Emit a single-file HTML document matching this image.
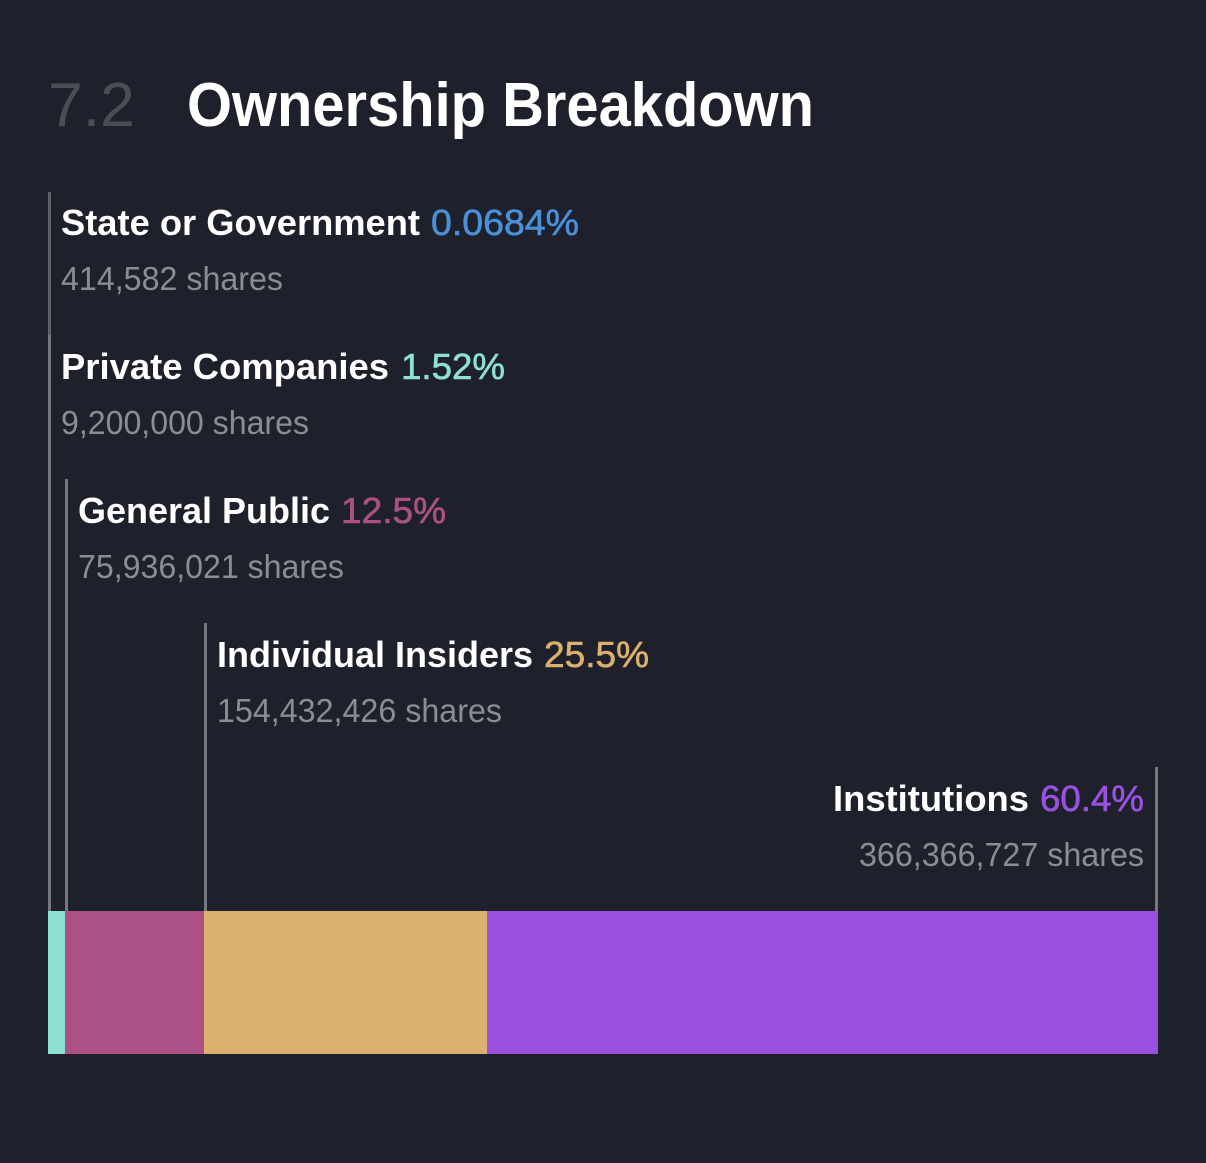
<!DOCTYPE html>
<html><head><meta charset="utf-8"><style>
html,body{margin:0;padding:0;background:#1e212b;}
svg{display:block}
text{font-family:"Liberation Sans",sans-serif}
</style></head><body>
<svg width="1206" height="1163" viewBox="0 0 1206 1163" xmlns="http://www.w3.org/2000/svg">
<rect width="1206" height="1163" fill="#1e212b"/>
<text x="48" y="126" font-size="62" fill="#4a4d55" textLength="87" lengthAdjust="spacingAndGlyphs">7.2</text>
<text x="187" y="126" font-size="62" font-weight="bold" fill="#ffffff" textLength="627" lengthAdjust="spacingAndGlyphs">Ownership Breakdown</text>

<g stroke-width="3">
<line x1="49.5" y1="192" x2="49.5" y2="335" stroke="#5e6168"/>
<line x1="49.5" y1="335" x2="49.5" y2="911" stroke="#75787f"/>
<line x1="66.5" y1="479" x2="66.5" y2="911" stroke="#75787f"/>
<line x1="205.5" y1="623" x2="205.5" y2="911" stroke="#75787f"/>
<line x1="1156.5" y1="767" x2="1156.5" y2="911" stroke="#75787f"/>
</g>

<g font-size="36">
<text x="61" y="235" font-weight="bold" fill="#fff" textLength="359" lengthAdjust="spacingAndGlyphs">State or Government</text>
<text x="431" y="235" fill="#4a90d9" stroke="#4a90d9" stroke-width="0.6" textLength="148" lengthAdjust="spacingAndGlyphs">0.0684%</text>
<text x="61" y="379" font-weight="bold" fill="#fff" textLength="328" lengthAdjust="spacingAndGlyphs">Private Companies</text>
<text x="401" y="379" fill="#8ee0d2" stroke="#8ee0d2" stroke-width="0.6" textLength="104" lengthAdjust="spacingAndGlyphs">1.52%</text>
<text x="78" y="523" font-weight="bold" fill="#fff" textLength="252" lengthAdjust="spacingAndGlyphs">General Public</text>
<text x="341" y="523" fill="#ab5185" stroke="#ab5185" stroke-width="0.6" textLength="105" lengthAdjust="spacingAndGlyphs">12.5%</text>
<text x="217" y="667" font-weight="bold" fill="#fff" textLength="316" lengthAdjust="spacingAndGlyphs">Individual Insiders</text>
<text x="544" y="667" fill="#dcb06e" stroke="#dcb06e" stroke-width="0.6" textLength="105" lengthAdjust="spacingAndGlyphs">25.5%</text>
<text x="833" y="811" font-weight="bold" fill="#fff" textLength="196" lengthAdjust="spacingAndGlyphs">Institutions</text>
<text x="1040" y="811" fill="#9a51e0" stroke="#9a51e0" stroke-width="0.6" textLength="104" lengthAdjust="spacingAndGlyphs">60.4%</text>
</g>
<g font-size="33" fill="#8a8d94">
<text x="61" y="290" textLength="222" lengthAdjust="spacingAndGlyphs">414,582 shares</text>
<text x="61" y="434" textLength="248" lengthAdjust="spacingAndGlyphs">9,200,000 shares</text>
<text x="78" y="578" textLength="266" lengthAdjust="spacingAndGlyphs">75,936,021 shares</text>
<text x="217" y="722" textLength="285" lengthAdjust="spacingAndGlyphs">154,432,426 shares</text>
<text x="859" y="866" textLength="285" lengthAdjust="spacingAndGlyphs">366,366,727 shares</text>
</g>

<rect x="48" y="911" width="17" height="143" fill="#8ee0d2"/>
<rect x="65" y="911" width="139" height="143" fill="#ab5185"/>
<rect x="204" y="911" width="283" height="143" fill="#dcb06e"/>
<rect x="487" y="911" width="671" height="143" fill="#9a51e0"/>
</svg>
</body></html>
